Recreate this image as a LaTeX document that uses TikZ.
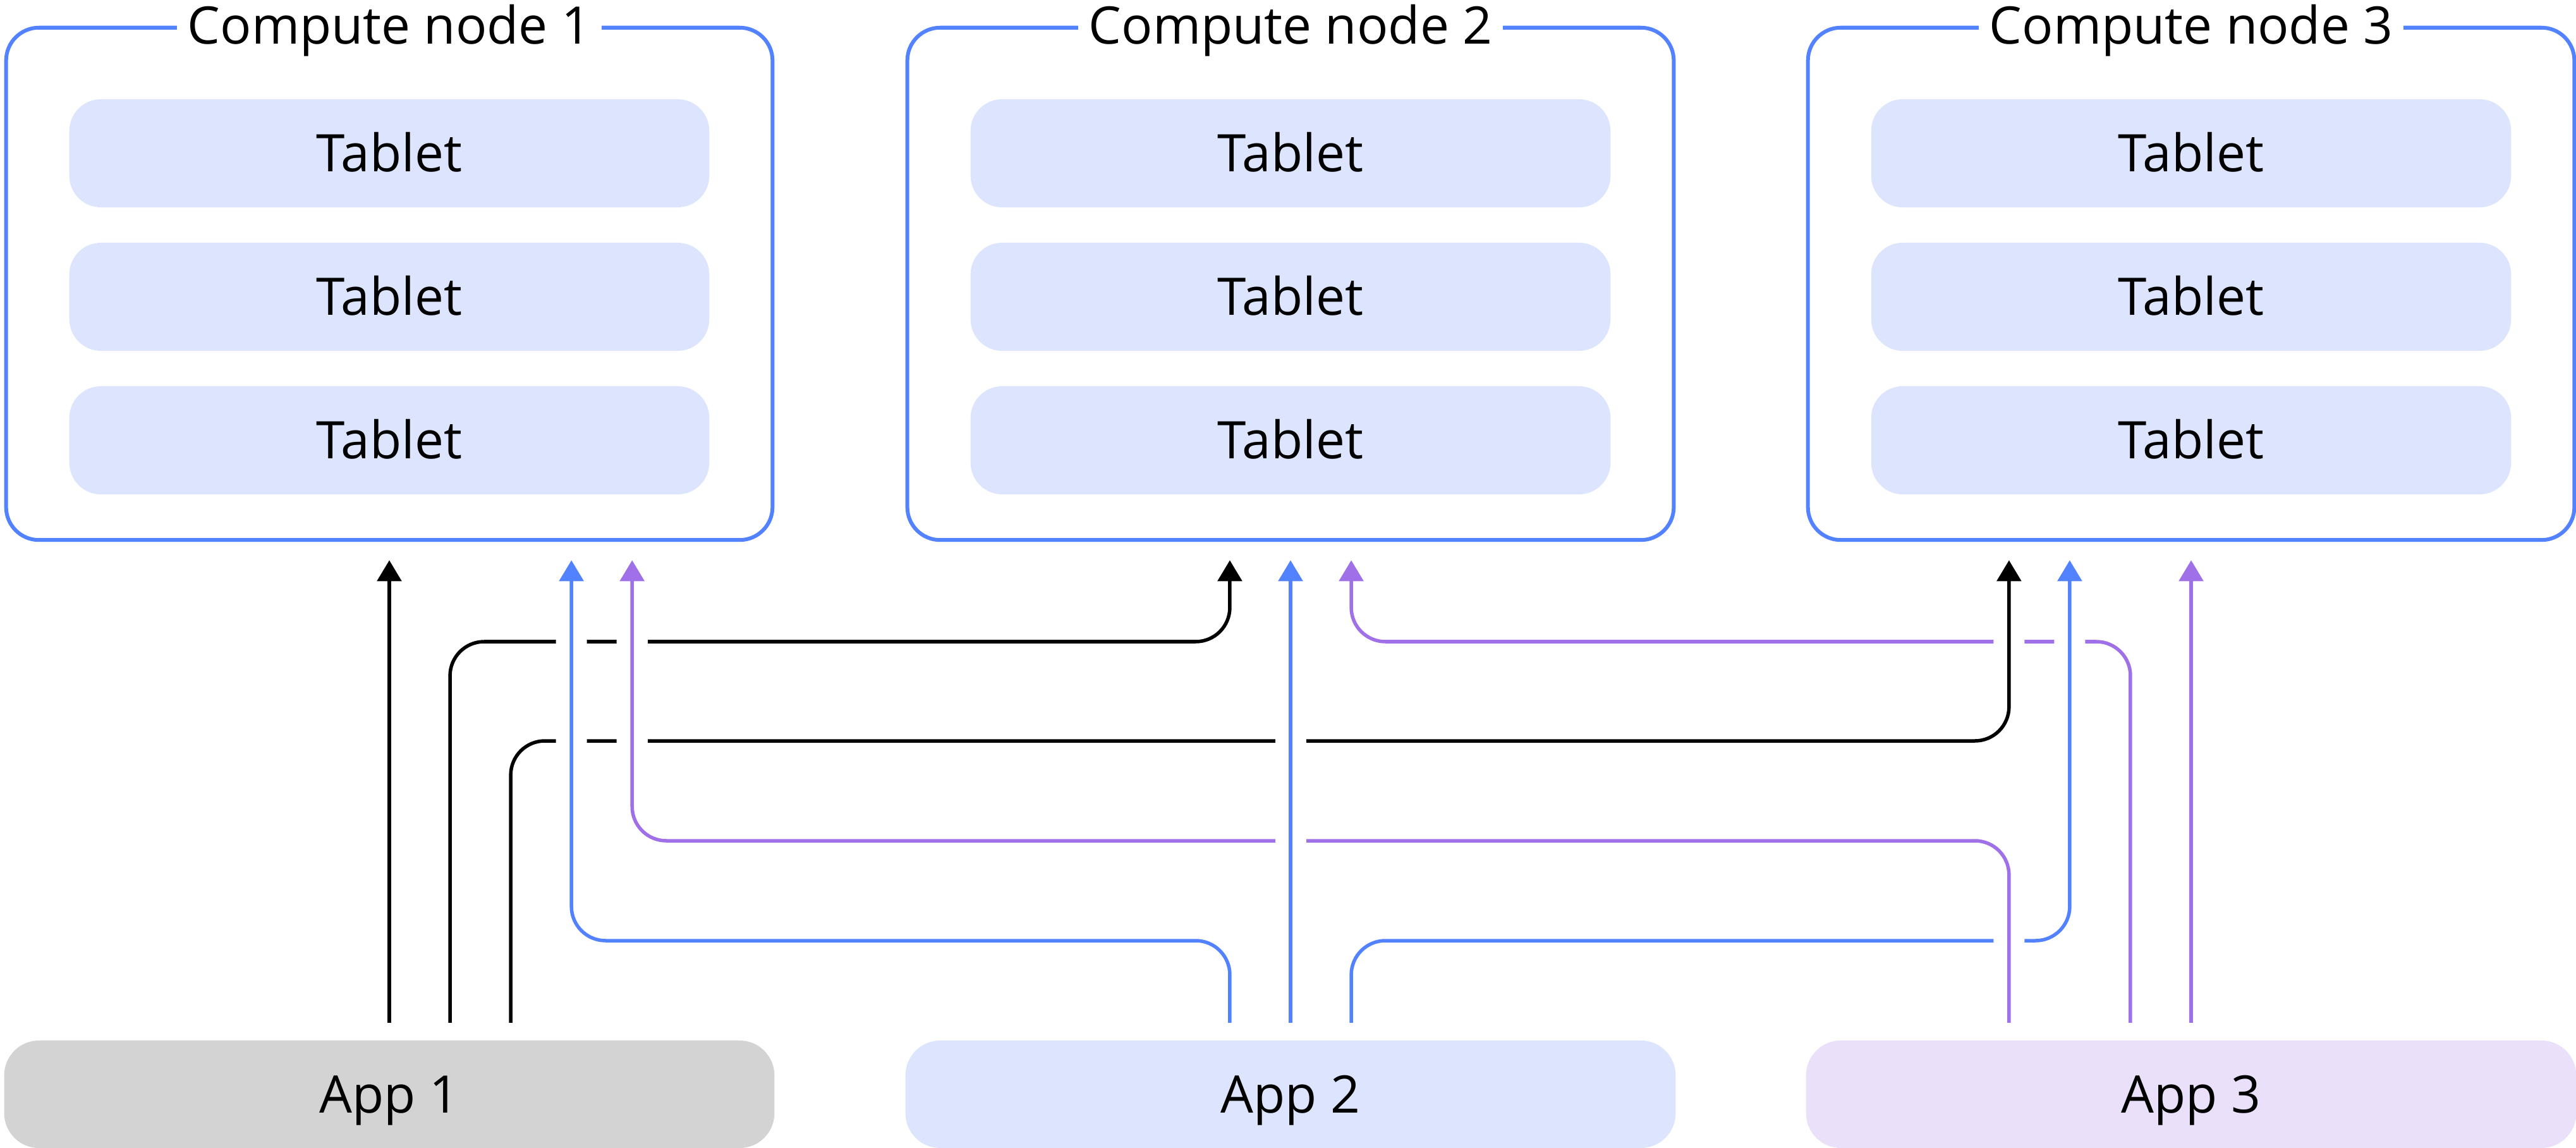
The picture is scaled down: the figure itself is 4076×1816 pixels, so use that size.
\documentclass[tikz,border=0pt]{standalone}
\usepackage{fontspec}
\setmainfont{Open Sans}
\usetikzlibrary{arrows.meta}

\definecolor{nodeblue}{HTML}{5282FF}
\definecolor{wirepurple}{HTML}{A070E8}
\definecolor{tabletfill}{HTML}{DCE5FD}
\definecolor{appgray}{HTML}{D3D3D3}
\definecolor{appblue}{HTML}{DCE5FD}
\definecolor{applilac}{HTML}{EAE0F9}

% a wire: white halo first (cuts the wires it crosses), then the line itself
\newcommand\wire[2]{\draw[halo] #2; \draw[wire,#1] #2;}

\begin{document}
\begin{tikzpicture}[x=0.01cm, y=-0.01cm,
  every node/.style={font=\fontsize{23.3pt}{28pt}\selectfont,
    text height=0.585cm, text depth=0cm, inner sep=0pt, outer sep=0pt},
  computebox/.style={draw=nodeblue, line width=0.06cm, rounded corners=0.52cm,
    minimum width=12.12cm, minimum height=8.10cm},
  titlebox/.style={fill=white, minimum width=6.72cm, minimum height=0.7cm},
  tabletbox/.style={fill=tabletfill, rounded corners=0.5cm,
    minimum width=10.12cm, minimum height=1.71cm},
  appbox/.style={rounded corners=0.55cm, minimum width=12.18cm, minimum height=1.70cm},
  wire/.style={line width=0.055cm, rounded corners=0.54cm,
    -{Triangle[length=0.33cm,width=0.38cm]}},
  halo/.style={draw=white, line width=0.49cm, rounded corners=0.54cm},
]
\useasboundingbox (0,0) rectangle (4076,1816);

% compute nodes with their tablets
\foreach \i/\cx in {1/616, 2/2042, 3/3467}{
  \node[computebox] (cn\i) at (\cx,449) {};
  \node[titlebox] (h\i) at ([yshift=0.04cm]cn\i.north) {Compute node \i};
  \node[tabletbox] (t\i a) at (\cx,242.5) {Tablet};
  \node[tabletbox] (t\i b) at (\cx,469.5) {Tablet};
  \node[tabletbox] (t\i c) at (\cx,696.5) {Tablet};
}

% applications
\node[appbox, fill=appgray]  (app1) at (616,1731)  {App 1};
\node[appbox, fill=appblue]  (app2) at (2042,1731) {App 2};
\node[appbox, fill=applilac] (app3) at (3467,1731) {App 3};

% wire start points above the applications
\coordinate (a1s0) at ([yshift=0.28cm]app1.north);
\coordinate (a1s1) at ([xshift=0.96cm,yshift=0.28cm]app1.north);
\coordinate (a1s2) at ([xshift=1.92cm,yshift=0.28cm]app1.north);
\coordinate (a2s0) at ([xshift=-0.96cm,yshift=0.28cm]app2.north);
\coordinate (a2s1) at ([yshift=0.28cm]app2.north);
\coordinate (a2s2) at ([xshift=0.96cm,yshift=0.28cm]app2.north);
\coordinate (a3s0) at ([xshift=-2.88cm,yshift=0.28cm]app3.north);
\coordinate (a3s1) at ([xshift=-0.96cm,yshift=0.28cm]app3.north);
\coordinate (a3s2) at ([yshift=0.28cm]app3.north);

% wire end points below the compute nodes
\coordinate (c1e0) at ([yshift=-0.32cm]cn1.south);
\coordinate (c1e1) at ([xshift=2.88cm,yshift=-0.32cm]cn1.south);
\coordinate (c1e2) at ([xshift=3.84cm,yshift=-0.32cm]cn1.south);
\coordinate (c2e0) at ([xshift=-0.96cm,yshift=-0.32cm]cn2.south);
\coordinate (c2e1) at ([yshift=-0.32cm]cn2.south);
\coordinate (c2e2) at ([xshift=0.96cm,yshift=-0.32cm]cn2.south);
\coordinate (c3e0) at ([xshift=-2.88cm,yshift=-0.32cm]cn3.south);
\coordinate (c3e1) at ([xshift=-1.92cm,yshift=-0.32cm]cn3.south);
\coordinate (c3e2) at ([yshift=-0.32cm]cn3.south);

% horizontal routing levels
\coordinate (lvA) at (0,1015);
\coordinate (lvB) at (0,1172);
\coordinate (lvC) at (0,1330);
\coordinate (lvD) at (0,1488);

% wires, ordered so that vertical runs cut the horizontal runs they cross
\wire{black}{(a1s1) -- (a1s1 |- lvA) -- (c2e0 |- lvA) -- (c2e0)}
\wire{wirepurple}{(a3s1) -- (a3s1 |- lvA) -- (c2e2 |- lvA) -- (c2e2)}
\wire{black}{(a1s2) -- (a1s2 |- lvB) -- (c3e0 |- lvB) -- (c3e0)}
\wire{nodeblue}{(a2s2) -- (a2s2 |- lvD) -- (c3e1 |- lvD) -- (c3e1)}
\wire{nodeblue}{(a2s0) -- (a2s0 |- lvD) -- (c1e1 |- lvD) -- (c1e1)}
\wire{wirepurple}{(a3s0) -- (a3s0 |- lvC) -- (c1e2 |- lvC) -- (c1e2)}
\wire{nodeblue}{(a2s1) -- (c2e1)}
\wire{black}{(a1s0) -- (c1e0)}
\wire{wirepurple}{(a3s2) -- (c3e2)}
\end{tikzpicture}
\end{document}
